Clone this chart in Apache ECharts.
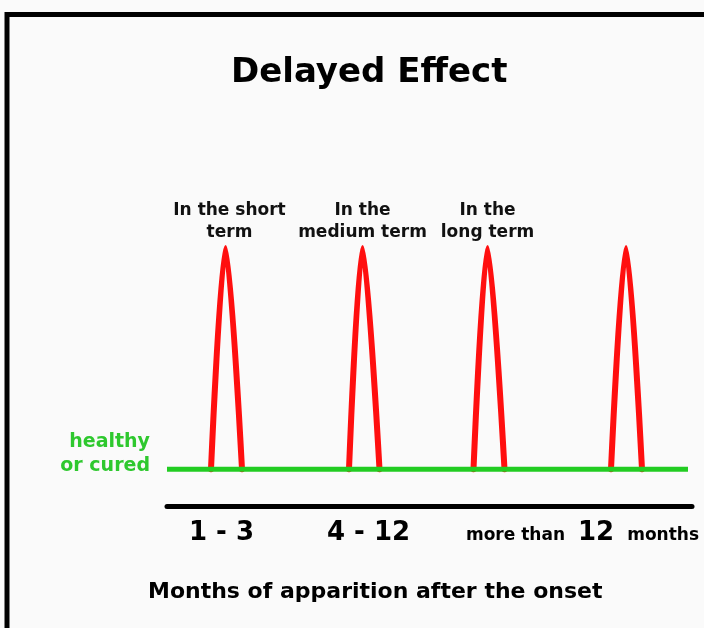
<!DOCTYPE html>
<html>
<head>
<meta charset="utf-8">
<script src="https://cdn.jsdelivr.net/npm/echarts@6/dist/echarts.min.js"></script>
<style>
html,body{margin:0;padding:0;background:#fafafa;}
#chart{width:704px;height:628px;}
</style>
</head>
<body>
<div id="chart"></div>
<script>
// ---- data ----
const chartTitle = 'Delayed Effect';
const axisTitle = 'Months of apparition after the onset';
const baselineLabel = 'healthy\nor cured';
const baseline = [[0, 0], [104.2, 0]];
const peakNames = ['In the short\nterm', 'In the\nmedium term', 'In the\nlong term'];
const peak1 = [[8.8, 0], [11.7, 6], [15.0, 0]];
const peak2 = [[36.4, 0], [39.1, 6], [42.5, 0]];
const peak3 = [[61.3, 0], [64.1, 6], [67.5, 0]];
const peak4 = [[88.8, 0], [91.8, 6], [95.0, 0]];
const peaks = [peak1, peak2, peak3, peak4];
const tickValues = [10.9, 40.3, 83.1];
const tickLabels = ['{b|1 - 3}', '{b|4 - 12}', '{s|more than}{b2|12}{s|months}'];

const FONT = 'DejaVu Sans';
const chart = echarts.init(document.getElementById('chart'), null, {renderer: 'canvas'});

const peakSeries = peaks.map((pts) => ({
  type: 'line',
  data: pts,
  smooth: 0.3,
  symbol: 'none',
  clip: false,
  lineStyle: {color: '#ff0f0f', width: 6, cap: 'round', join: 'round'},
  z: 2,
  silent: true
}));

// annotation labels sit on the tops of the first peaks
const annotationData = peakNames.map((name, i) => {
  const pts = peaks[i];
  const top = pts.reduce((a, b) => (b[1] > a[1] ? b : a));
  const item = {value: top, name: name};
  if (i === 0) item.label = {offset: [4, 0]};
  return item;
});

const option = {
  backgroundColor: '#fafafa',
  animation: false,
  title: [
    {
      text: chartTitle, left: 231, top: 56, padding: 0,
      textStyle: {fontFamily: FONT, fontWeight: 'bold', fontSize: 34, color: '#000'}
    },
    {
      text: axisTitle, left: 148, top: 581, padding: 0,
      textStyle: {fontFamily: FONT, fontWeight: 'bold', fontSize: 22, color: '#000'}
    }
  ],
  graphic: [{
    type: 'rect',
    shape: {x: 7, y: 14.5, width: 900, height: 900},
    style: {fill: null, stroke: '#000', lineWidth: 5},
    z: 10
  }],
  grid: {left: 167, right: 12, top: 248, bottom: 122},
  xAxis: {
    type: 'value', min: 0, max: 105,
    axisLine: {show: true, onZero: false, lineStyle: {color: '#000', width: 5}},
    axisTick: {show: false},
    splitLine: {show: false},
    axisLabel: {
      customValues: tickValues,
      margin: 14,
      formatter: (v) => {
        const k = tickValues.indexOf(v);
        return k >= 0 ? tickLabels[k] : '';
      },
      rich: {
        b: {fontFamily: FONT, fontWeight: 'bold', fontSize: 26, color: '#000'},
        b2: {fontFamily: FONT, fontWeight: 'bold', fontSize: 26, color: '#000', padding: [0, 13, 0, 13]},
        s: {fontFamily: FONT, fontWeight: 'bold', fontSize: 17, color: '#000', padding: [5, 0, 0, 0]}
      }
    }
  },
  yAxis: {
    type: 'value', min: -1, max: 6, show: false,
    splitLine: {show: false}
  },
  series: [
    ...peakSeries,
    {
      type: 'line',
      data: baseline,
      symbol: 'none',
      clip: false,
      lineStyle: {color: '#22cc22', width: 5},
      z: 3,
      silent: true
    },
    {
      type: 'scatter',
      data: annotationData,
      symbolSize: 2,
      itemStyle: {color: 'transparent', opacity: 1},
      label: {
        show: true, position: 'top', distance: 3,
        formatter: (p) => p.name,
        fontFamily: FONT, fontWeight: 'bold', fontSize: 17,
        lineHeight: 22, color: '#111', align: 'center'
      },
      z: 4,
      silent: true
    },
    {
      type: 'scatter',
      data: [{value: baseline[0], name: baselineLabel}],
      symbolSize: 2,
      itemStyle: {color: 'transparent', opacity: 1},
      label: {
        show: true, position: 'left', distance: 16, offset: [0, -15],
        formatter: (p) => p.name, align: 'right',
        fontFamily: FONT, fontWeight: 'bold', fontSize: 19, lineHeight: 24,
        color: '#2ec82e'
      },
      z: 4,
      silent: true
    }
  ]
};
chart.setOption(option);
</script>
</body>
</html>
